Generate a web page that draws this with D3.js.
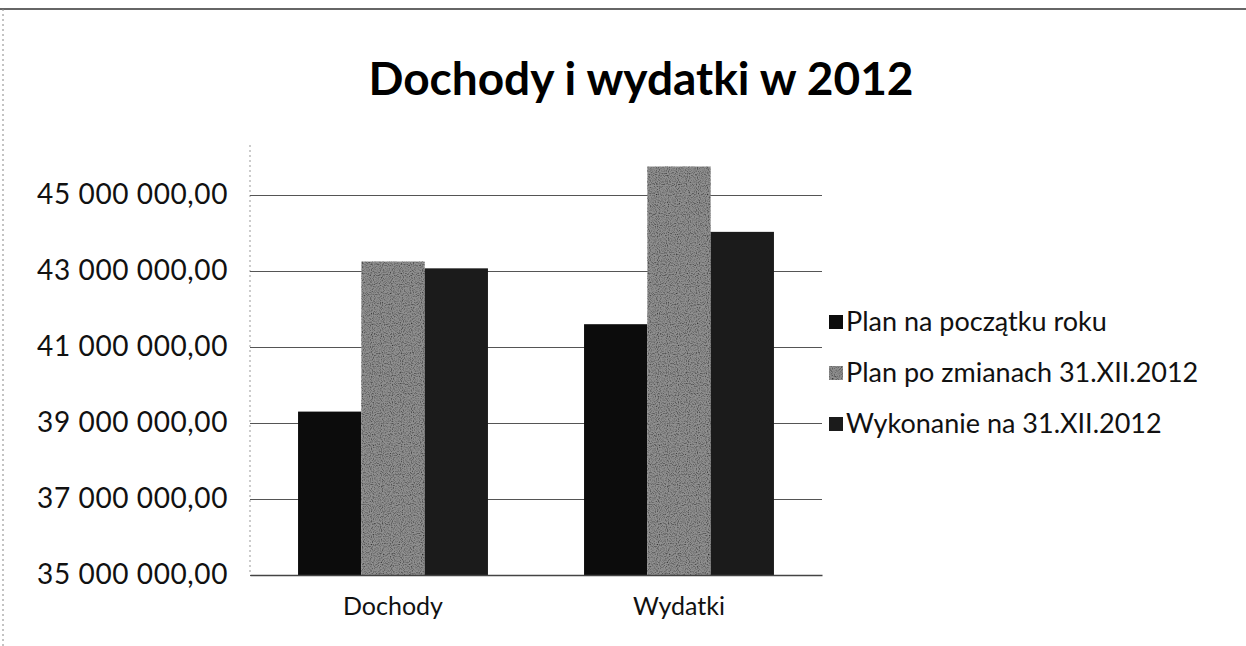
<!DOCTYPE html>
<html>
<head>
<meta charset="utf-8">
<script src="https://cdn.jsdelivr.net/npm/d3@7"></script>
<style>
  html, body { margin: 0; padding: 0; background: #fff; }
  svg { display: block; }
</style>
</head>
<body>
<svg id="chart" width="1246" height="646"></svg>
<script>
// ---- data ----
const title = "Dochody i wydatki w 2012";
const categories = ["Dochody", "Wydatki"];
const seriesNames = ["Plan na początku roku", "Plan po zmianach 31.XII.2012", "Wykonanie na 31.XII.2012"];
const planStart = [39300000, 41600000];
const planChanged = [43250000, 45750000];
const execution = [43070000, 44030000];
const yTicks = [35000000, 37000000, 39000000, 41000000, 43000000, 45000000];
const yDomain = [35000000, 46000000];

// ---- layout / style ----
const W = 1246, H = 646;
const plot = { left: 250, right: 822, top: 157, bottom: 575 };
const colors = ["#0c0c0c", "#8f8f8f", "#1b1b1b"];
const groupFraction = 0.664;
const font = "Lato, 'Open Sans', 'DejaVu Sans', sans-serif";

const series = [planStart, planChanged, execution];
const svg = d3.select("#chart");

// speckle texture for the grey series (scan look)
const defs = svg.append("defs");
const f = defs.append("filter").attr("id", "speckle").attr("x", 0).attr("y", 0).attr("width", 1).attr("height", 1);
f.append("feTurbulence").attr("type", "fractalNoise").attr("baseFrequency", 0.9).attr("numOctaves", 1).attr("seed", 3).attr("result", "n");
f.append("feColorMatrix").attr("in", "n").attr("type", "matrix")
  .attr("values", "0 0 0 0 0  0 0 0 0 0  0 0 0 0 0  0 0 0 -2.2 1.25").attr("result", "dots");
f.append("feComposite").attr("in", "dots").attr("in2", "SourceGraphic").attr("operator", "in").attr("result", "d2");
f.append("feMerge").call(m => { m.append("feMergeNode").attr("in", "SourceGraphic"); m.append("feMergeNode").attr("in", "d2"); });

// chart frame (scan border)
svg.append("line").attr("x1", 0).attr("x2", W).attr("y1", 9).attr("y2", 9)
  .attr("stroke", "#333").attr("stroke-width", 1.5);
svg.append("line").attr("x1", 3).attr("x2", 3).attr("y1", 9).attr("y2", H)
  .attr("stroke", "#888").attr("stroke-width", 1).attr("stroke-dasharray", "2,3");

// title
svg.append("text").attr("x", 641).attr("y", 95).attr("text-anchor", "middle")
  .attr("font-family", font).attr("font-weight", "bold").attr("font-size", 46)
  .attr("fill", "#000").text(title);

const x0 = d3.scaleBand().domain(categories).range([plot.left, plot.right]).padding(0);
const groupW = x0.bandwidth() * groupFraction;
const x1 = d3.scaleBand().domain(d3.range(series.length)).range([0, groupW]).padding(0);
const y = d3.scaleLinear().domain(yDomain).range([plot.bottom, plot.top]);

const locale = d3.formatLocale({ decimal: ",", thousands: " ", grouping: [3], currency: ["", ""] });
const fmt = locale.format(",.2f");

// plot left border (dotted)
svg.append("line").attr("x1", plot.left).attr("x2", plot.left).attr("y1", plot.top - 12).attr("y2", plot.bottom)
  .attr("stroke", "#999").attr("stroke-width", 1).attr("stroke-dasharray", "2,3");

// gridlines
const grid = svg.append("g").attr("transform", `translate(${plot.left},0)`)
  .call(d3.axisLeft(y).tickValues(yTicks).tickSize(-(plot.right - plot.left)).tickFormat(""));
grid.select(".domain").remove();
grid.selectAll(".tick line").attr("stroke", "#555").attr("stroke-width", 1.2);

// y axis labels
const yAxis = svg.append("g").attr("transform", `translate(${plot.left - 22},0)`)
  .call(d3.axisLeft(y).tickValues(yTicks).tickSize(0).tickPadding(0).tickFormat(fmt));
yAxis.select(".domain").remove();
yAxis.selectAll("text").attr("font-family", font).attr("font-size", 28)
  .attr("letter-spacing", 0.6).attr("fill", "#111");

// bars
const groups = svg.append("g").selectAll("g").data(categories).join("g")
  .attr("transform", d => `translate(${x0(d) + (x0.bandwidth() - groupW) / 2},0)`);
groups.selectAll("rect")
  .data((d, i) => series.map((s, k) => ({ k, v: s[i] })))
  .join("rect")
  .attr("x", d => x1(d.k))
  .attr("width", x1.bandwidth())
  .attr("y", d => y(d.v))
  .attr("height", d => y(yDomain[0]) - y(d.v))
  .attr("fill", d => colors[d.k])
  .attr("filter", d => d.k === 1 ? "url(#speckle)" : null);

// bottom axis
const xAxis = svg.append("g").attr("transform", `translate(0,${plot.bottom})`)
  .call(d3.axisBottom(x0).tickSize(0).tickPadding(22));
xAxis.select(".domain").attr("stroke", "#444").attr("stroke-width", 1.5);
xAxis.selectAll("text").attr("font-family", font).attr("font-size", 25).attr("fill", "#111");

// legend
const legend = svg.append("g").attr("transform", "translate(829,322)");
const rows = legend.selectAll("g").data(seriesNames).join("g")
  .attr("transform", (d, i) => `translate(0,${i * 51})`);
rows.append("rect").attr("x", 0).attr("y", -7).attr("width", 14).attr("height", 14)
  .attr("fill", (d, i) => colors[i])
  .attr("filter", (d, i) => i === 1 ? "url(#speckle)" : null);
rows.append("text").attr("x", 17).attr("y", 0).attr("dy", "0.35em")
  .attr("font-family", font).attr("font-size", 27).attr("fill", "#111").text(d => d);
</script>
</body>
</html>
